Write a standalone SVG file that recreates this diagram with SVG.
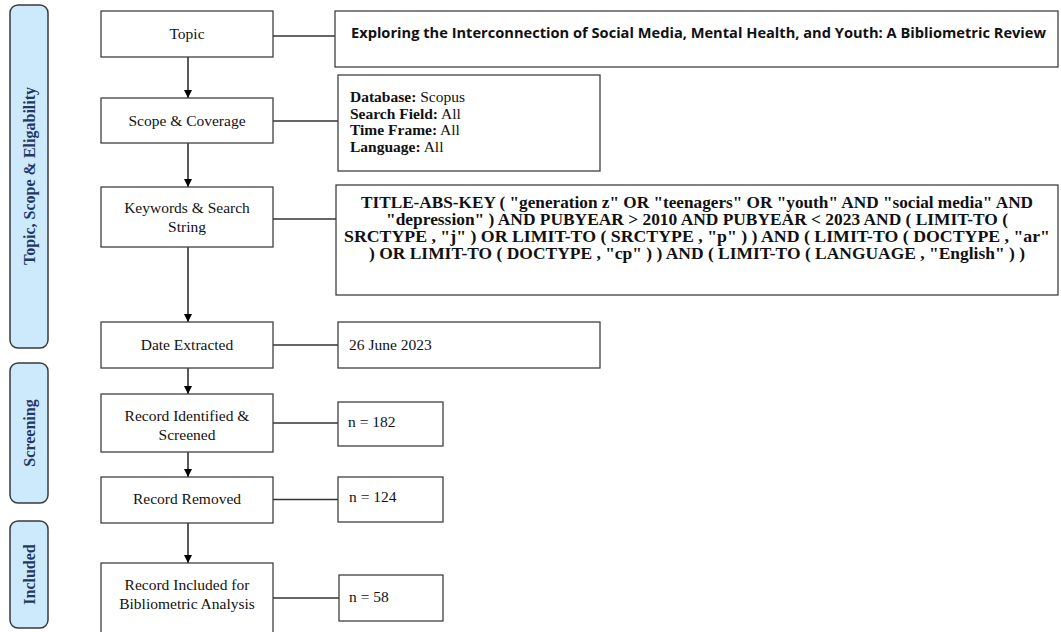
<svg xmlns="http://www.w3.org/2000/svg" width="1061" height="632" viewBox="0 0 1061 632">
<style>
.box{fill:#fff;stroke:#404040;stroke-width:1.3}
.side{fill:#cdeafd;stroke:#3a3a3a;stroke-width:1.5}
.st{font-family:"Liberation Serif","Times New Roman",serif;font-weight:bold;font-size:16px;fill:#1f3864;text-anchor:middle}
.t{font-family:"Liberation Serif","Times New Roman",serif;font-size:15.5px;fill:#111;text-anchor:middle}
.r{font-family:"Liberation Serif","Times New Roman",serif;font-size:15.5px;fill:#111}
.k{font-family:"Liberation Serif","Times New Roman",serif;font-size:17px;font-weight:bold;fill:#111}
.ttl{font-family:"Open Sans","Liberation Sans",sans-serif;font-size:14px;font-weight:bold;fill:#111}
.ln{stroke:#333;stroke-width:1.3;fill:none}
.ar{stroke:#000;stroke-width:1.3;fill:none;marker-end:url(#ah)}
</style>
<defs>
<marker id="ah" viewBox="0 0 10 10" refX="10" refY="5" markerWidth="8" markerHeight="8" markerUnits="userSpaceOnUse" orient="auto">
<path d="M0,0 L10,5 L0,10 Z" fill="#000"/>
</marker>
</defs>
<rect width="1061" height="632" fill="#fff"/>

<g id="side-topic">
<rect class="side" x="10" y="5" width="38" height="343" rx="8"/>
<text class="st" transform="translate(34.5,176) rotate(-90)">Topic, Scope &amp; Eligability</text>
</g>
<g id="side-screening">
<rect class="side" x="10" y="363" width="38" height="140" rx="8"/>
<text class="st" transform="translate(34.5,433) rotate(-90)">Screening</text>
</g>
<g id="side-included">
<rect class="side" x="10" y="521" width="38" height="107" rx="8"/>
<text class="st" transform="translate(34.5,574.5) rotate(-90)">Included</text>
</g>

<g id="connectors">
<line class="ar" x1="188" y1="57" x2="188" y2="98"/>
<line class="ar" x1="188" y1="143" x2="188" y2="187"/>
<line class="ar" x1="188" y1="247" x2="188" y2="322"/>
<line class="ar" x1="188" y1="368" x2="188" y2="394"/>
<line class="ar" x1="188" y1="452" x2="188" y2="477"/>
<line class="ar" x1="188" y1="523" x2="188" y2="563"/>
<line class="ln" x1="273" y1="36" x2="335" y2="36"/>
<line class="ln" x1="273" y1="121" x2="338" y2="121"/>
<line class="ln" x1="273" y1="219" x2="336" y2="219"/>
<line class="ln" x1="273" y1="345" x2="338" y2="345"/>
<line class="ln" x1="273" y1="423" x2="338" y2="423"/>
<line class="ln" x1="273" y1="499.5" x2="338" y2="499.5"/>
<line class="ln" x1="273" y1="598" x2="339" y2="598"/>
</g>

<g id="topic">
<rect class="box" x="101" y="11" width="172" height="46"/>
<text class="t" x="187" y="39">Topic</text>
</g>
<g id="topic-detail">
<rect class="box" x="335" y="11" width="723" height="56"/>
<text class="ttl" x="351" y="38" textLength="695" lengthAdjust="spacingAndGlyphs">Exploring the Interconnection of Social Media, Mental Health, and Youth: A Bibliometric Review</text>
</g>

<g id="scope">
<rect class="box" x="101" y="98" width="172" height="45"/>
<text class="t" x="187" y="126">Scope &amp; Coverage</text>
</g>
<g id="scope-detail">
<rect class="box" x="338" y="75" width="262" height="96"/>
<text class="r" x="350" y="102"><tspan font-weight="bold">Database:</tspan> Scopus</text>
<text class="r" x="350" y="118.5"><tspan font-weight="bold">Search Field:</tspan> All</text>
<text class="r" x="350" y="135"><tspan font-weight="bold">Time Frame:</tspan> All</text>
<text class="r" x="350" y="152"><tspan font-weight="bold">Language:</tspan> All</text>
</g>

<g id="keywords">
<rect class="box" x="101" y="187" width="172" height="60"/>
<text class="t" x="187" y="213">Keywords &amp; Search</text>
<text class="t" x="187" y="231.5">String</text>
</g>
<g id="keywords-detail">
<rect class="box" x="336" y="185" width="722" height="110"/>
<text class="k" x="361" y="208" textLength="672" lengthAdjust="spacingAndGlyphs">TITLE-ABS-KEY ( "generation z" OR "teenagers" OR "youth" AND "social media" AND</text>
<text class="k" x="386" y="225" textLength="622" lengthAdjust="spacingAndGlyphs">"depression" ) AND PUBYEAR &gt; 2010 AND PUBYEAR &lt; 2023 AND ( LIMIT-TO (</text>
<text class="k" x="344" y="242" textLength="706" lengthAdjust="spacingAndGlyphs">SRCTYPE , "j" ) OR LIMIT-TO ( SRCTYPE , "p" ) ) AND ( LIMIT-TO ( DOCTYPE , "ar"</text>
<text class="k" x="369" y="259" textLength="656" lengthAdjust="spacingAndGlyphs">) OR LIMIT-TO ( DOCTYPE , "cp" ) ) AND ( LIMIT-TO ( LANGUAGE , "English" ) )</text>
</g>

<g id="date">
<rect class="box" x="101" y="322" width="172" height="46"/>
<text class="t" x="187" y="350">Date Extracted</text>
</g>
<g id="date-detail">
<rect class="box" x="338" y="322" width="262" height="46"/>
<text class="r" x="349" y="350">26 June 2023</text>
</g>

<g id="identified">
<rect class="box" x="101" y="394" width="172" height="58"/>
<text class="t" x="187" y="421">Record Identified &amp;</text>
<text class="t" x="187" y="439.5">Screened</text>
</g>
<g id="identified-detail">
<rect class="box" x="338" y="402" width="105" height="44"/>
<text class="r" x="348" y="427">n = 182</text>
</g>

<g id="removed">
<rect class="box" x="101" y="477" width="172" height="46"/>
<text class="t" x="187" y="504">Record Removed</text>
</g>
<g id="removed-detail">
<rect class="box" x="338" y="477" width="105" height="45"/>
<text class="r" x="349" y="502">n = 124</text>
</g>

<g id="included">
<rect class="box" x="101" y="563" width="172" height="80"/>
<text class="t" x="187" y="590">Record Included for</text>
<text class="t" x="187" y="608.5">Bibliometric Analysis</text>
</g>
<g id="included-detail">
<rect class="box" x="339" y="575" width="104" height="46"/>
<text class="r" x="349" y="602">n = 58</text>
</g>
</svg>
